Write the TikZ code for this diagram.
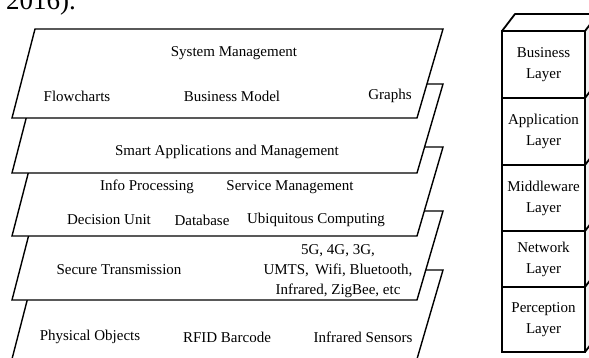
\documentclass[tikz,border=0pt]{standalone}
\usepackage{fontspec}
\setmainfont{Liberation Serif}
\usetikzlibrary{positioning}

\begin{document}
\begin{tikzpicture}[
 x=1pt, y=-1pt, font=\fontsize{15}{21}\selectfont,
 plane/.style={draw,fill=white,line width=1.4pt,line join=miter},
 lbl/.style={inner sep=0pt},
 layer/.style={draw,line width=1.8pt,minimum width=83pt,text width=83pt,align=center,inner sep=0pt,outer sep=0pt},
 cubeline/.style={draw,line width=1.8pt,line join=round}
]
\useasboundingbox (0,0) rectangle (589,358);
\clip (0,0) rectangle (589,358);

\node[lbl,font=\fontsize{27}{27}\selectfont,anchor=base west] (year) at (6,10) {2016).};

% stacked planes, bottom one first
\foreach \t in {270,211,147,84,29} {
 \draw[plane] (35,\t) -- (443,\t) -- (417,{\t+89}) -- (12,{\t+89}) -- cycle;
}

% system management plane
\node[lbl] (sysmgmt) at (234,53) {System Management};
\node[lbl] (flow) at (77,96) {Flowcharts};
\node[lbl] (bmodel) at (232,96) {Business Model};
\node[lbl] (graphs) at (390,96) {Graphs};
% applications plane
\node[lbl] (smartapp) at (227,152) {Smart Applications and Management};
\node[lbl] (infoproc) at (147,187) {Info Processing};
\node[lbl] (servmgmt) at (290,187) {Service Management};
\node[lbl] (decision) at (109,220) {Decision Unit};
\node[lbl] (database) at (202,220) {Database};
\node[lbl] (ubicomp) at (316,220) {Ubiquitous Computing};
% network plane
\node[lbl] (secure) at (119,270) {Secure Transmission};
\node[lbl,align=center,font=\fontsize{15}{20}\selectfont] (wireless) at (338,271)
 {5G, 4G, 3G,\\UMTS,\, Wifi, Bluetooth,\\Infrared, ZigBee, etc};
% perception plane
\node[lbl] (physical) at (90,337) {Physical Objects};
\node[lbl] (rfid) at (227,337) {RFID Barcode};
\node[lbl] (irsens) at (363,337) {Infrared Sensors};

% layer cube
\node[layer,minimum height=67pt] (business) at (543.5,64.5) {Business\\Layer};
\node[layer,minimum height=67pt,below=0pt of business] (application) {Application\\Layer};
\node[layer,minimum height=66pt,below=0pt of application] (middleware) {Middleware\\Layer};
\node[layer,minimum height=56pt,below=0pt of middleware] (network) {Network\\Layer};
\node[layer,minimum height=65pt,below=0pt of network] (perception) {Perception\\Layer};

\draw[cubeline,fill=gray!12] (business.north east) -- ++(13,-17)
 -- ([shift={(13,-17)}]perception.south east) -- (perception.south east) -- cycle;
\draw[cubeline] (business.north west) -- ++(13,-17) -- ++(90,0);
\foreach \n in {business,application,middleware,network} {
 \draw[cubeline] (\n.south east) -- ++(13,-17);
}
\end{tikzpicture}
\end{document}
